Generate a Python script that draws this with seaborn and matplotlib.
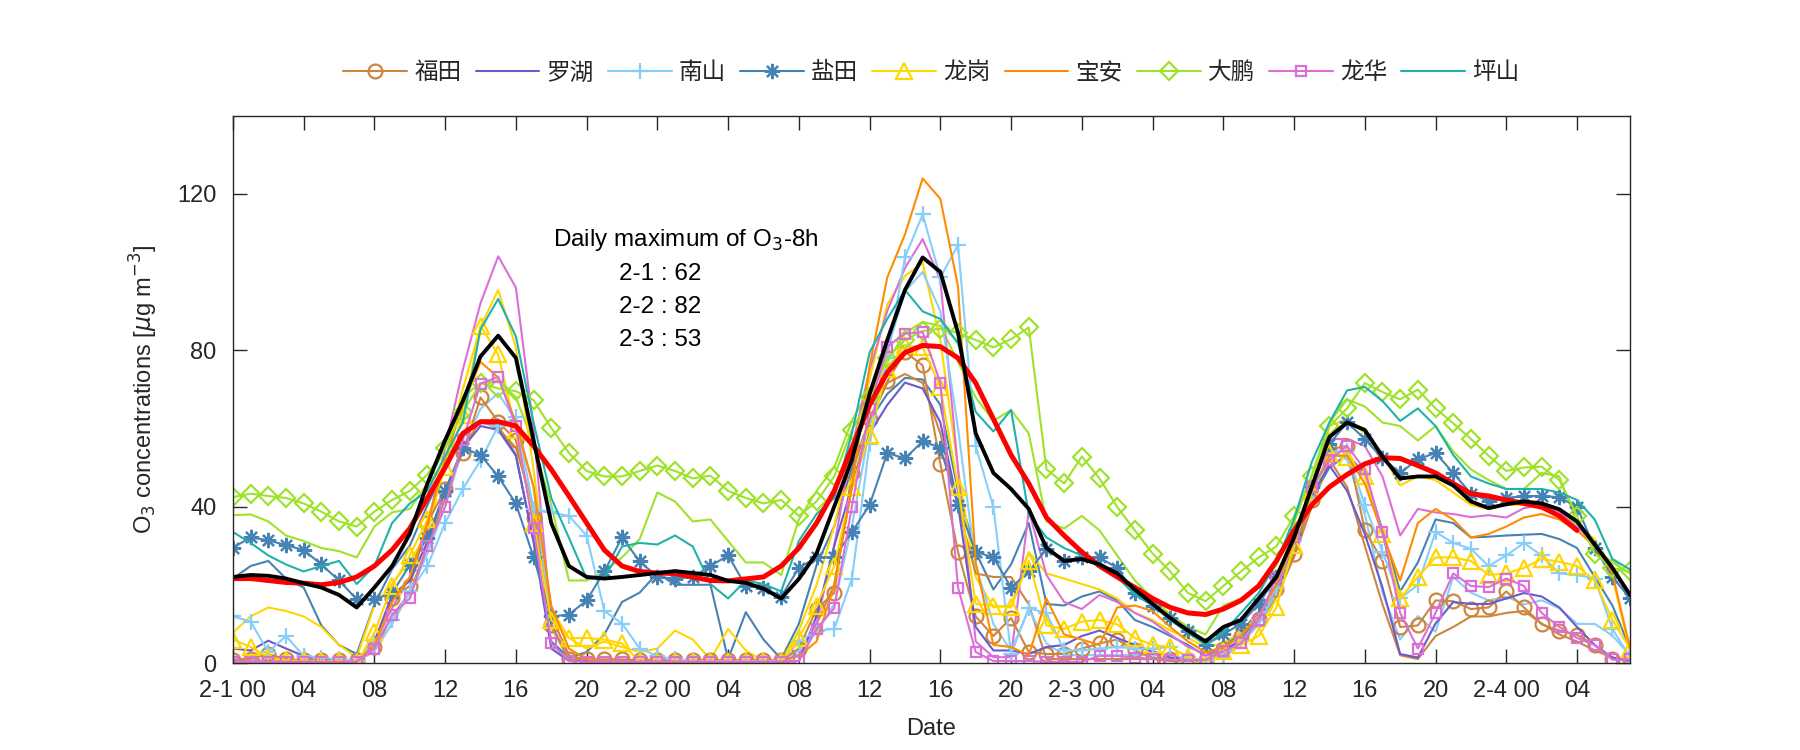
import numpy as np
import pandas as pd
import matplotlib
matplotlib.use("Agg")
import matplotlib.pyplot as plt
import seaborn as sns

# hours since 2-1 00:00
hours = list(range(80))

xtick_pos = list(range(0, 80, 4))
xtick_labels = ['2-1 00', '04', '08', '12', '16', '20',
                '2-2 00', '04', '08', '12', '16', '20',
                '2-3 00', '04', '08', '12', '16', '20',
                '2-4 00', '04']

stations = ['福田', '罗湖', '南山', '盐田', '龙岗', '宝安', '大鹏', '龙华', '坪山']

futian = [0.7, 1.1, 2.3, 0.9, 0.7, 0.7, 0.7, 0.7,
          4.1, 16.5, 19.7, 35.8,
          44.5, 53.7, 67.9, 61.7, 57.0, 37.2, 9.6, 0.9, 0.9, 0.9, 0.9,
          0.7, 0.7, 0.7, 0.7, 0.7, 0.7, 0.7, 0.7, 0.7,
          3.7, 13.8,
          17.9, 48.6, 62.4, 72.0, 79.6, 76.1, 50.9, 28.4, 11.9, 6.9, 11.5, 2.8,
          2.3, 2.3, 3.7, 5.0, 6.0, 3.2, 1.4, 0.9, 0.7, 0.7, 3.7,
          6.9, 11.2, 18.8, 28.0, 41.7, 54.6, 55.5, 33.9, 26.1, 9.2, 9.6, 16.0,
          15.8, 13.8, 14.2, 18.3, 14.2, 9.9, 8.3, 7.2, 4.6, 0.9, 0.9]

luohu = [3.7, 3.2, 5.7, 3.7, 1.8, 0.9, 0.5, 0.2,
         5.5, 17.4, 21.0, 31.0,
         44.0, 55.0, 60.6, 59.6, 53.0, 31.0, 3.7, 0.5, 0.5, 0.5, 0.5,
         0.3, 0.3, 0.3, 0.3, 0.3, 0.3, 0.3, 0.3, 0.3,
         0.5, 12.0,
         30.0, 45.0, 58.7, 66.0, 71.7, 70.2, 61.5, 40.4, 9.2, 3.2, 3.2, 2.3,
         4.1, 4.6, 6.9, 8.3, 6.4, 4.6, 2.8, 1.4, 0.9, 0.5, 3.0,
         6.0, 11.0, 20.0, 30.0, 43.0, 50.5, 44.0, 33.0, 19.3, 2.3, 1.4, 10.1,
         15.6, 15.1, 15.1, 16.5, 17.9, 17.0, 14.2, 9.2, 4.6, 1.4, 0.5]

nanshan = [11.9, 10.6, 2.8, 6.9, 1.8, 1.4, 0.9, 0.5,
           5.5, 11.0, 18.3, 24.8,
           35.8, 44.5, 51.8, 60.6, 62.8, 39.4, 38.5, 37.6, 32.6, 13.3, 10.1,
           3.7, 1.8, 0.9, 0.5, 0.5, 0.5, 0.5, 0.5, 0.5,
           5.5, 8.3,
           8.7, 21.6, 56.0, 78.0, 103.7, 114.7, 98.6, 106.9, 55.5, 39.9, 2.3, 14.0,
           12.8, 3.2, 3.2, 3.7, 4.1, 3.7, 3.7, 4.1, 1.4, 0.5, 1.5,
           5.5, 11.0, 19.3, 31.2, 42.2, 54.1, 54.1, 40.4, 28.4, 16.5, 20.0, 33.5,
           30.7, 29.2, 24.8, 27.5, 30.7, 27.5, 22.9, 22.5, 21.6, 8.7, 1.5]

yantian = [29.5, 32.1, 31.4, 30.1, 28.9, 25.2, 21.1, 16.3,
           16.3, 17.9, 25.0, 32.0,
           44.0, 55.0, 53.2, 47.7, 40.8, 27.0, 11.9, 12.4, 16.0, 23.4, 32.1,
           26.0, 22.0, 21.6, 22.0, 24.8, 27.5, 19.7, 19.3, 17.0,
           24.3, 27.0,
           27.0, 33.5, 40.4, 53.7, 52.3, 56.7, 55.0, 40.4, 28.4, 27.0, 19.3, 23.4,
           29.2, 26.1, 27.0, 27.0, 24.3, 17.9, 14.7, 11.5, 8.3, 4.6, 7.3,
           10.1, 15.1, 22.0, 33.0, 45.0, 56.0, 61.5, 57.3, 52.3, 48.6, 52.1, 53.7,
           48.6, 43.3, 41.5, 42.2, 42.7, 42.7, 42.4, 39.9, 29.4, 22.0, 16.5]

longgang = [6.0, 4.1, 1.4, 0.7, 0.5, 0.5, 0.5, 0.0,
            7.8, 19.7, 27.5, 36.7,
            50.0, 63.3, 86.2, 78.9, 59.6, 35.8, 11.0, 6.4, 6.4, 6.0, 5.0,
            0.3, 0.3, 0.3, 0.3, 0.3, 0.3, 0.3, 0.3, 0.3,
            6.4, 14.7,
            24.8, 45.0, 58.3, 75.2, 81.2, 80.7, 70.6, 45.0, 15.1, 14.7, 14.2, 26.1,
            9.6, 8.7, 10.6, 11.0, 9.9, 6.4, 4.6, 4.1, 1.5, 0.5, 3.0,
            4.6, 6.9, 14.2, 30.3, 43.6, 53.7, 52.8, 47.7, 33.0, 16.5, 22.0, 27.0,
            27.0, 26.1, 22.5, 22.9, 24.3, 26.6, 25.9, 24.8, 21.1, 11.0, 3.7]

baoan = [0.3, 0.3, 0.3, 0.3, 0.3, 0.3, 0.3, 0.3,
         4.6, 15.6, 22.0, 35.8,
         52.0, 66.0, 77.0, 73.0, 61.5, 45.0, 14.7, 3.7, 0.9, 0.5, 0.5,
         0.3, 0.3, 0.3, 0.3, 0.3, 0.3, 0.3, 0.3, 0.3,
         1.8, 5.5,
         20.0, 45.0, 76.0, 98.6, 109.6, 123.9, 118.7, 96.3, 25.7, 4.6, 4.1, 2.0,
         16.5, 7.3, 6.0, 4.6, 14.2, 14.7, 13.3, 9.2, 5.5, 2.8, 4.0,
         7.0, 12.0, 20.0, 31.0, 44.0, 53.0, 53.0, 45.9, 33.0, 21.1, 35.8, 39.4,
         36.7, 32.1, 33.0, 34.9, 37.2, 38.1, 36.7, 33.9, 29.8, 22.9, 3.7]

dapeng = [42.4, 43.3, 42.7, 42.2, 40.8, 38.7, 36.2, 34.9, 38.7, 41.7, 44.0, 48.2,
          55.0, 64.2, 71.6, 70.2, 69.5, 67.2, 60.1, 53.7, 49.1, 47.7, 47.7,
          49.1, 50.5, 49.1, 47.2, 47.9, 44.0, 42.2, 40.8, 41.7, 37.6, 41.3,
          47.7, 59.6, 67.9, 78.0, 82.6, 84.9, 85.5, 84.4, 82.6, 80.7, 82.8, 85.8,
          49.5, 45.9, 52.8, 47.2, 39.9, 33.9, 28.0, 23.4, 17.9, 15.8, 19.7,
          23.4, 27.0, 29.8, 37.6, 47.7, 60.6, 65.1, 71.6, 69.3, 67.4, 69.9, 65.1,
          61.3, 57.3, 53.0, 49.1, 50.0, 50.2, 46.8, 37.6, 28.0, 24.3, 23.4]

longhua = [0.3, 0.3, 0.3, 0.3, 0.3, 0.3, 0.3, 0.3,
           3.7, 12.4, 16.5, 29.8,
           40.0, 57.0, 71.4, 73.2, 60.6, 34.4, 5.0, 0.5, 0.3, 0.3, 0.3,
           0.3, 0.3, 0.3, 0.3, 0.3, 0.3, 0.3, 0.3, 0.3,
           0.5, 8.7,
           14.0, 40.0, 65.0, 80.9, 84.2, 84.6, 71.7, 19.3, 2.8, 0.5, 0.5, 0.5,
           0.3, 0.3, 0.3, 1.8, 1.8, 1.4, 1.0, 0.8, 0.8, 0.8, 3.0,
           5.0, 11.0, 22.0, 32.1, 45.0, 51.8, 55.5, 49.5, 33.5, 12.8, 3.7, 12.8,
           22.9, 19.7, 19.4, 21.6, 19.7, 12.8, 9.2, 6.4, 4.6, 0.9, 0.9]

pingshan = [33.5, 30.7, 27.5, 25.2, 23.4, 24.8, 26.1, 20.2, 24.8, 35.8, 40.8, 44.0,
            53.0, 61.5, 85.3, 93.1, 83.5, 61.5, 42.2, 32.0, 21.6, 21.6, 29.8,
            30.7, 30.3, 32.6, 29.8, 20.2, 16.5, 21.1, 20.2, 18.3, 31.2, 38.1,
            42.2, 58.7, 79.4, 88.0, 95.4, 89.9, 88.0, 81.7, 64.2, 59.2, 64.7, 38.0,
            32.1, 29.4, 27.5, 25.7, 22.0, 17.4, 14.7, 11.0, 7.8, 4.6, 7.8,
            12.8, 17.9, 25.7, 36.7, 51.4, 61.5, 69.7, 70.6, 67.0, 61.9, 65.1, 60.6,
            53.2, 47.7, 45.9, 44.5, 44.5, 44.5, 43.6, 41.7, 36.7, 26.6, 23.9]

# other sites (not in legend)
extra_green = [37.8, 38.0, 36.2, 32.6, 31.2, 29.4, 28.6, 27.0, 34.9, 38.5, 39.4, 45.9,
               55.0, 68.0, 71.6, 72.0, 68.0, 56.0, 40.4, 21.1, 21.1, 23.4, 27.0,
               31.7, 43.6, 41.3, 36.2, 36.7, 31.2, 25.7, 25.7, 22.5, 36.7, 44.0,
               50.0, 62.0, 70.0, 77.0, 84.4, 87.2, 86.2, 77.0, 67.9, 61.9, 64.7, 58.7,
               36.2, 34.4, 37.6, 33.9, 27.5, 21.1, 16.5, 12.4, 9.2, 7.3, 14.7,
               16.5, 19.3, 25.0, 36.0, 48.0, 61.5, 67.4, 65.6, 61.5, 60.6, 56.9, 60.6,
               54.1, 49.5, 46.8, 44.5, 44.5, 48.6, 47.7, 35.8, 29.4, 25.7, 22.9]

extra_steel = [21.6, 24.8, 26.1, 21.6, 19.3, 9.6, 4.6, 2.3, 15.0, 24.0, 30.0, 40.4,
               50.0, 58.0, 61.5, 60.6, 53.2, 31.2, 5.5, 1.4, 2.8, 7.3, 15.6,
               18.0, 23.0, 20.0, 20.0, 20.0, 1.0, 13.0, 6.0, 1.0, 10.0, 25.0,
               35.0, 50.0, 62.0, 68.8, 72.9, 72.5, 66.0, 44.0, 28.4, 18.8, 25.2, 35.8,
               15.1, 14.7, 17.0, 18.3, 16.0, 11.0, 9.2, 6.9, 4.6, 1.8, 4.0,
               8.0, 13.0, 20.0, 30.0, 42.0, 50.0, 53.2, 48.6, 33.9, 18.3, 25.7, 36.7,
               35.8, 32.1, 32.3, 32.6, 32.8, 33.0, 31.7, 29.4, 22.0, 14.7, 3.7]

extra_gold = [7.8, 11.9, 14.2, 13.3, 11.9, 9.2, 4.6, 1.4, 14.7, 20.2, 26.1, 33.0,
              52.0, 70.0, 86.0, 95.4, 80.7, 49.5, 13.8, 6.4, 3.7, 5.5, 4.1,
              2.8, 3.7, 8.3, 6.0, 0.9, 8.7, 3.2, 0.5, 0.5, 8.3, 20.0,
              35.0, 55.0, 72.5, 91.7, 99.0, 102.3, 82.6, 49.5, 22.0, 14.2, 14.7, 28.4,
              22.9, 21.6, 20.2, 18.8, 16.5, 12.8, 11.0, 8.3, 6.4, 4.1, 5.0,
              8.0, 12.0, 20.0, 32.0, 45.0, 60.6, 62.4, 58.7, 53.2, 45.4, 47.7, 46.8,
              43.6, 40.4, 39.4, 40.4, 40.4, 39.4, 38.1, 34.9, 31.7, 22.0, 2.8]

extra_brown = [0.5, 0.5, 1.0, 1.0, 0.5, 0.5, 0.5, 0.5, 3.0, 12.0, 18.0, 30.0,
               42.0, 55.0, 62.0, 60.0, 55.0, 40.0, 12.0, 2.0, 0.8, 0.8, 0.8,
               0.5, 0.5, 0.5, 0.5, 0.5, 0.5, 0.5, 0.5, 0.5, 2.0, 10.0,
               20.0, 45.0, 62.0, 71.6, 73.9, 71.6, 58.7, 40.0, 22.9, 22.0, 22.0, 15.0,
               1.0, 1.0, 1.0, 1.0, 1.0, 1.0, 1.0, 0.5, 0.5, 0.5, 2.0,
               5.0, 10.0, 17.0, 27.0, 40.0, 52.0, 45.0, 30.0, 15.0, 2.0, 1.0, 6.9,
               9.2, 11.9, 11.9, 12.8, 13.3, 10.1, 7.3, 5.5, 3.2, 1.4, 0.5]

extra_orchid = [0.5, 0.5, 0.5, 0.5, 0.5, 0.5, 0.5, 0.5, 5.0, 14.0, 22.0, 35.0,
                55.0, 75.0, 92.0, 104.0, 96.0, 60.0, 10.0, 1.0, 0.5, 0.5, 0.5,
                0.5, 0.5, 0.5, 0.5, 0.5, 0.5, 0.5, 0.5, 0.5, 2.0, 10.0,
                30.0, 55.0, 75.0, 90.0, 101.0, 108.4, 98.0, 49.5, 5.5, 1.5, 1.5, 39.0,
                22.5, 15.6, 13.8, 17.4, 15.6, 12.8, 10.6, 7.3, 4.1, 2.3, 4.0,
                7.0, 12.0, 20.0, 32.0, 45.0, 57.3, 57.3, 55.5, 47.7, 32.6, 39.4, 38.5,
                38.1, 37.3, 37.8, 37.2, 39.6, 40.4, 38.7, 34.9, 30.3, 24.8, 15.6]

extra_sky = [1.0, 1.0, 0.5, 0.5, 0.5, 0.5, 0.5, 0.5, 3.0, 10.0, 18.0, 28.0,
             40.0, 55.0, 65.0, 69.0, 62.0, 45.0, 9.0, 1.0, 0.5, 0.5, 0.5,
             0.5, 0.5, 0.5, 0.5, 0.5, 0.5, 0.5, 0.5, 0.5, 3.0, 8.0,
             15.0, 35.0, 60.0, 80.0, 95.0, 100.0, 90.0, 60.0, 25.0, 10.0, 3.0, 13.8,
             5.0, 2.0, 2.0, 2.0, 2.0, 2.0, 2.0, 2.0, 1.0, 0.5, 1.5,
             5.0, 10.0, 18.0, 30.0, 42.0, 54.0, 52.0, 38.0, 18.0, 6.0, 12.0, 8.0,
             22.0, 18.0, 16.0, 17.0, 15.0, 16.0, 14.0, 10.0, 10.0, 7.0, 2.0]

city_mean = [22.0, 22.5, 22.3, 21.6, 20.4, 19.3, 17.4, 14.2, 19.3, 24.8, 33.0, 45.9,
             57.0, 67.0, 78.4, 83.7, 78.0, 56.9, 35.8, 24.8, 22.0, 21.6, 22.0,
             22.5, 23.0, 23.5, 23.0, 22.5, 21.0, 20.5, 19.0, 16.5, 21.5, 28.0,
             40.0, 52.0, 68.8, 82.6, 95.4, 103.7, 100.0, 84.4, 58.7, 48.6, 44.5, 39.4,
             29.4, 26.1, 26.6, 25.2, 22.9, 18.8, 15.1, 11.5, 8.3, 5.5, 9.2,
             11.0, 16.5, 22.0, 32.1, 45.0, 57.8, 61.5, 59.6, 52.8, 47.2, 47.7, 47.7,
             45.4, 41.3, 39.6, 40.6, 41.3, 40.8, 39.3, 36.2, 30.3, 24.3, 17.4]

o3_8h = [21.6, 21.6, 21.1, 20.6, 20.4, 20.0, 20.6, 22.0, 24.8, 28.9, 34.4, 42.2,
         50.0, 58.7, 61.7, 61.7, 60.6, 55.5, 49.5, 42.7, 35.8, 28.9, 24.8,
         23.4, 23.0, 22.9, 22.0, 21.1, 21.0, 21.5, 22.0, 24.8, 29.4, 35.8,
         44.0, 55.0, 66.0, 74.3, 79.4, 81.2, 80.9, 78.0, 71.6, 62.4, 53.2, 45.9,
         37.2, 32.6, 28.4, 24.8, 22.0, 19.3, 16.5, 14.2, 12.8, 12.4, 13.8,
         16.0, 19.7, 26.1, 33.9, 40.4, 45.0, 48.2, 50.9, 52.5, 52.3, 50.5, 48.6,
         45.9, 43.3, 42.7, 41.7, 40.8, 39.9, 37.6, 33.9, np.nan, np.nan, np.nan]

daily_max = ['2-1 : 62', '2-2 : 82', '2-3 : 53']

c_brown = '#CD853F'
c_purple = '#6A5ACD'
c_sky = '#87CEFA'
c_steel = '#4682B4'
c_gold = '#FFD700'
c_orange = '#FF8C00'
c_green = '#9FE22B'
c_orchid = '#DA70D6'
c_teal = '#20B2AA'

sns.set_style('ticks')
plt.rcParams['font.family'] = ['Liberation Sans', 'Noto Sans CJK SC', 'DejaVu Sans']
plt.rcParams['mathtext.fontset'] = 'dejavusans'

fig = plt.figure(figsize=(18, 7.5), dpi=100)
ax = fig.add_axes([0.1294, 0.116, 0.7762, 0.730])


def draw(vals, color, label=None, marker=None, ms=8, lw=1.5):
    kw = dict(color=color, linewidth=lw, ax=ax, errorbar=None, label=label)
    if marker is not None:
        kw.update(marker=marker, markersize=ms, markerfacecolor='none',
                  markeredgecolor=color, markeredgewidth=1.6)
    sns.lineplot(x=hours, y=vals, **kw)


# unlabeled sites
draw(extra_green, c_green)
draw(extra_steel, c_steel)
draw(extra_gold, c_gold)
draw(extra_brown, c_brown)
draw(extra_orchid, c_orchid)
draw(extra_sky, c_sky)

draw(futian, c_brown, '福田', 'o', 10)
draw(luohu, c_purple, '罗湖')
draw(nanshan, c_sky, '南山', '+', 12)
draw(yantian, c_steel, '盐田', (8, 2, 0), 11)
draw(longgang, c_gold, '龙岗', '^', 11)
draw(baoan, c_orange, '宝安')
draw(dapeng, c_green, '大鹏', 'D', 9.5)
draw(longhua, c_orchid, '龙华', 's', 7)
draw(pingshan, c_teal, '坪山')

sns.lineplot(x=hours, y=o3_8h, color='#FF0000', linewidth=3.6, ax=ax, errorbar=None)
sns.lineplot(x=hours, y=city_mean, color='black', linewidth=2.8, ax=ax, errorbar=None)

ax.set_xlim(0, 79)
ax.set_ylim(0, 140)
ax.set_xticks(xtick_pos)
ax.set_xticklabels(xtick_labels)
ax.set_yticks([0, 40, 80, 120])
ax.tick_params(direction='in', length=10, width=1, top=True, right=True,
               labelsize=17, pad=12, colors='#262626')
for s in ax.spines.values():
    s.set_visible(True)
    s.set_linewidth(1.0)
    s.set_color('#262626')

ax.set_xlabel('Date', fontsize=17, labelpad=12, color='#262626')
ax.set_ylabel(r'O$_3$ concentrations [$\mu$g m$^{-3}$]', fontsize=17,
              labelpad=12, color='#262626')

ax.text(0.229, 0.772, r'Daily maximum of O$_3$-8h', transform=ax.transAxes,
        fontsize=17.5, ha='left', va='center', color='black')
for i, t in enumerate(daily_max):
    ax.text(0.306, 0.71 - i * 0.06, t, transform=ax.transAxes,
            fontsize=17.5, ha='center', va='center', color='black')

handles, labels = ax.get_legend_handles_labels()
ax.legend(handles, labels, ncol=9, loc='center', bbox_to_anchor=(0.5, 1.078),
          frameon=False, handlelength=2.7, handletextpad=0.3,
          columnspacing=0.6, prop={'family': ['Noto Sans CJK SC', 'DejaVu Sans'], 'size': 17})

fig.savefig('out.png', dpi=100)
